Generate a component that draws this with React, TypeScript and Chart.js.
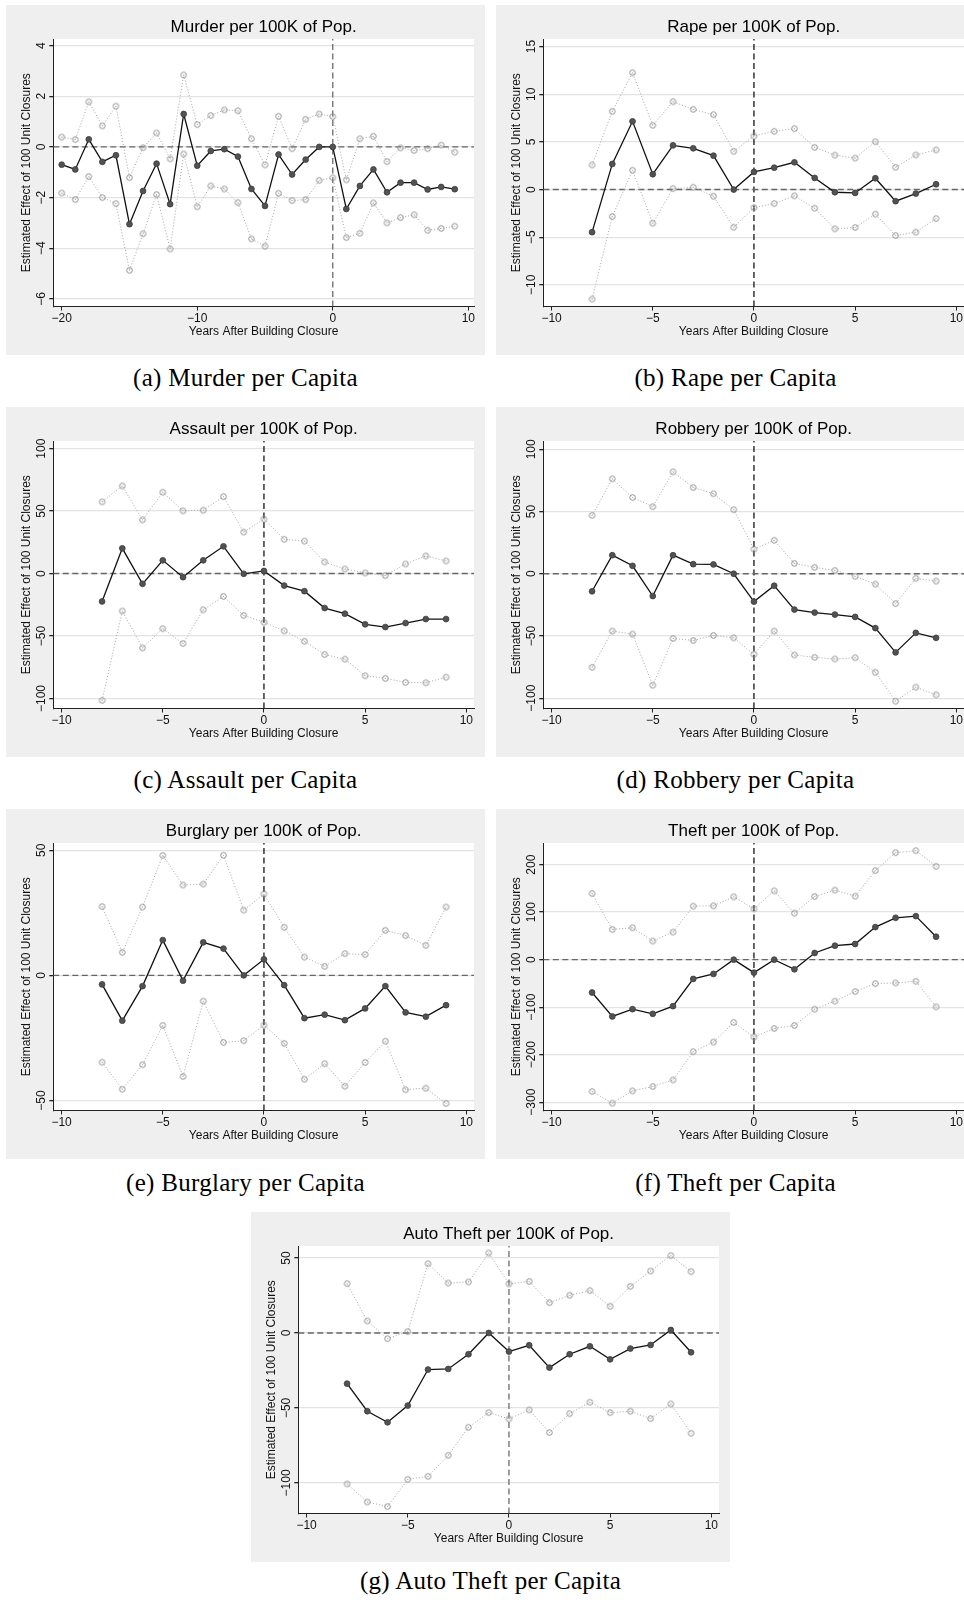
import React, { useEffect, useRef } from "react";
import { Chart, registerables } from "chart.js";

Chart.register(...registerables);

// ---------------------------------------------------------------------------
// Event-study estimates: effect of 100 unit closures, by years after closure.
// coef = point estimate, upper / lower = confidence bounds.
// ---------------------------------------------------------------------------

const murderYears = [
  -20, -19, -18, -17, -16, -15, -14, -13, -12, -11,
  -10, -9, -8, -7, -6, -5, -4, -3, -2, -1,
  0, 1, 2, 3, 4, 5, 6, 7, 8, 9,
];
const murderCoef = [
  -0.7, -0.89, 0.3, -0.59, -0.33, -3.05, -1.74, -0.66, -2.26, 1.3,
  -0.74, -0.16, -0.09, -0.38, -1.66, -2.33, -0.3, -1.09, -0.5, 0.0,
  0.0, -2.45, -1.54, -0.89, -1.79, -1.41, -1.41, -1.68, -1.58, -1.67,
];
const murderUpper = [
  0.39, 0.29, 1.78, 0.83, 1.61, -1.21, -0.03, 0.55, -0.47, 2.84,
  0.88, 1.24, 1.46, 1.43, 0.32, -0.71, 1.21, -0.07, 1.09, 1.3,
  1.2, -1.3, 0.32, 0.42, -0.58, -0.04, -0.14, -0.07, 0.07, -0.21,
];
const murderLower = [
  -1.82, -2.08, -1.17, -2.0, -2.24, -4.87, -3.43, -1.88, -4.03, -0.28,
  -2.36, -1.54, -1.66, -2.2, -3.63, -3.92, -1.83, -2.12, -2.08, -1.32,
  -1.22, -3.58, -3.41, -2.21, -3.0, -2.79, -2.68, -3.29, -3.22, -3.13,
];

const windowYears = [-8, -7, -6, -5, -4, -3, -2, -1, 0, 1, 2, 3, 4, 5, 6, 7, 8, 9];

const rapeCoef = [-4.47, 2.69, 7.16, 1.61, 4.64, 4.33, 3.56, 0.0, 1.85, 2.3, 2.86, 1.22, -0.28, -0.35, 1.19, -1.22, -0.42, 0.56];
const rapeUpper = [2.58, 8.21, 12.26, 6.74, 9.22, 8.41, 7.86, 4.02, 5.62, 6.11, 6.39, 4.43, 3.61, 3.3, 5.02, 2.34, 3.63, 4.16];
const rapeLower = [-11.49, -2.83, 2.03, -3.53, 0.1, 0.24, -0.7, -3.95, -1.89, -1.47, -0.66, -1.96, -4.12, -3.98, -2.58, -4.82, -4.47, -3.04];

const assaultCoef = [-22.3, 20.2, -8.2, 10.6, -2.9, 10.6, 21.8, -0.2, 2.1, -9.6, -14.1, -27.6, -32.1, -40.6, -42.8, -39.6, -36.4, -36.4];
const assaultUpper = [57.4, 70.1, 43.0, 65.1, 50.2, 50.7, 61.6, 33.2, 43.6, 27.4, 26.0, 9.3, 3.7, 0.5, -1.6, 7.7, 14.1, 10.1];
const assaultLower = [-101.5, -30.0, -59.5, -44.1, -56.0, -29.0, -18.3, -33.5, -39.0, -45.9, -54.2, -64.8, -68.5, -81.8, -83.9, -87.1, -87.4, -82.9];

const robberyCoef = [-14.1, 14.9, 6.4, -17.9, 14.9, 7.7, 7.5, 0.0, -22.4, -9.6, -28.8, -31.2, -32.8, -34.7, -43.7, -63.2, -47.5, -51.5];
const robberyUpper = [46.9, 76.3, 61.3, 53.9, 81.9, 69.3, 64.3, 51.5, 19.7, 26.9, 8.3, 5.1, 2.7, -2.1, -8.3, -24.0, -3.7, -5.9];
const robberyLower = [-75.2, -46.1, -48.5, -89.6, -52.0, -53.6, -49.6, -51.5, -64.8, -46.1, -65.3, -67.2, -68.5, -67.5, -79.2, -102.4, -91.2, -97.3];

const burglaryCoef = [-3.6, -18.1, -4.3, 14.1, -2.1, 13.2, 10.7, 0.0, 6.4, -3.9, -17.1, -15.7, -17.9, -13.2, -4.3, -14.8, -16.5, -11.9];
const burglaryUpper = [27.5, 9.2, 27.3, 47.9, 36.1, 36.5, 48.0, 26.1, 32.5, 19.2, 7.3, 3.6, 8.7, 8.3, 18.0, 15.9, 12.0, 27.3];
const burglaryLower = [-34.7, -45.5, -35.7, -20.0, -40.4, -10.3, -26.8, -26.1, -19.9, -27.2, -41.5, -35.3, -44.3, -34.8, -26.3, -45.7, -45.1, -51.2];

const theftCoef = [-69.2, -119.6, -104.2, -114.0, -97.9, -40.6, -30.1, 0.0, -27.3, 0.0, -20.3, 14.0, 29.4, 32.9, 68.5, 88.1, 91.6, 48.3];
const theftUpper = [139.2, 63.6, 67.1, 39.2, 58.0, 112.6, 113.3, 132.2, 107.0, 144.8, 97.9, 132.9, 146.2, 133.6, 187.4, 225.2, 229.4, 196.5];
const theftLower = [-277.6, -302.1, -276.2, -267.1, -253.1, -193.7, -173.4, -132.2, -162.9, -144.8, -138.5, -104.2, -87.4, -67.1, -50.3, -49.0, -45.5, -99.3];

const autoTheftCoef = [-33.8, -52.2, -59.6, -48.4, -24.4, -24.0, -14.2, 0.0, -12.4, -8.2, -23.1, -14.2, -8.9, -17.6, -10.4, -8.0, 2.0, -12.9];
const autoTheftUpper = [32.9, 8.0, -3.8, 0.9, 46.2, 33.3, 34.0, 53.3, 32.7, 34.4, 20.2, 25.1, 28.2, 17.8, 31.1, 41.3, 51.6, 40.9];
const autoTheftLower = [-100.7, -112.7, -115.8, -97.6, -95.6, -81.6, -62.9, -53.1, -57.3, -51.3, -66.4, -53.8, -46.2, -53.1, -52.2, -57.1, -47.3, -66.9];

// Axis tick values
const murderXTicks = [-20, -10, 0, 10];
const windowXTicks = [-10, -5, 0, 5, 10];
const murderYTicks = [-6, -4, -2, 0, 2, 4];
const rapeYTicks = [-10, -5, 0, 5, 10, 15];
const assaultYTicks = [-100, -50, 0, 50, 100];
const robberyYTicks = [-100, -50, 0, 50, 100];
const burglaryYTicks = [-50, 0, 50];
const theftYTicks = [-300, -200, -100, 0, 100, 200];
const autoTheftYTicks = [-100, -50, 0, 50];

const X_TITLE = "Years After Building Closure";
const Y_TITLE = "Estimated Effect of 100 Unit Closures";

// ---------------------------------------------------------------------------
// Layout / styling
// ---------------------------------------------------------------------------
const PANEL_W = 479;
const PANEL_H = 350;
const SANS = '"Liberation Sans", Arial, Helvetica, sans-serif';
const SERIF = '"Liberation Serif", "Times New Roman", serif';
const TICK_SIZE = 12;
const TITLE_SIZE = 17;
const Y_AXIS_W = 47.3; // y-axis box width (title + labels + ticks)
const X_AXIS_H = 48.5; // x-axis box height
const TICK_LEN = 4;
const Y_LABEL_CENTER = 36; // x-centre of the rotated y tick labels

type PanelSpec = {
  key: string;
  title: string;
  caption: string;
  years: number[];
  coef: number[];
  upper: number[];
  lower: number[];
  xTicks: number[];
  yTicks: number[];
  xRange: [number, number];
  yRange: [number, number];
  left: number;
  top: number;
  captionY: number;
  vColor: string;
  vWidth: number;
};

const WIDE_X: [number, number] = [-10.41, 10.38];

const panels: PanelSpec[] = [
  {
    key: "a", title: "Murder per 100K of Pop.", caption: "(a) Murder per Capita",
    years: murderYears, coef: murderCoef, upper: murderUpper, lower: murderLower,
    xTicks: murderXTicks, yTicks: murderYTicks, xRange: [-20.62, 10.42], yRange: [-6.3, 4.26],
    left: 6, top: 5, captionY: 378, vColor: "#6a6a6a", vWidth: 1.3,
  },
  {
    key: "b", title: "Rape per 100K of Pop.", caption: "(b) Rape per Capita",
    years: windowYears, coef: rapeCoef, upper: rapeUpper, lower: rapeLower,
    xTicks: windowXTicks, yTicks: rapeYTicks, xRange: WIDE_X, yRange: [-12.27, 15.8],
    left: 496, top: 5, captionY: 378, vColor: "#000000", vWidth: 1.2,
  },
  {
    key: "c", title: "Assault per 100K of Pop.", caption: "(c) Assault per Capita",
    years: windowYears, coef: assaultCoef, upper: assaultUpper, lower: assaultLower,
    xTicks: windowXTicks, yTicks: assaultYTicks, xRange: WIDE_X, yRange: [-108, 106.1],
    left: 6, top: 407, captionY: 780, vColor: "#000000", vWidth: 1.2,
  },
  {
    key: "d", title: "Robbery per 100K of Pop.", caption: "(d) Robbery per Capita",
    years: windowYears, coef: robberyCoef, upper: robberyUpper, lower: robberyLower,
    xTicks: windowXTicks, yTicks: robberyYTicks, xRange: WIDE_X, yRange: [-108.3, 106.7],
    left: 496, top: 407, captionY: 780, vColor: "#000000", vWidth: 1.2,
  },
  {
    key: "e", title: "Burglary per 100K of Pop.", caption: "(e) Burglary per Capita",
    years: windowYears, coef: burglaryCoef, upper: burglaryUpper, lower: burglaryLower,
    xTicks: windowXTicks, yTicks: burglaryYTicks, xRange: WIDE_X, yRange: [-54, 52.9],
    left: 6, top: 809, captionY: 1183, vColor: "#000000", vWidth: 1.2,
  },
  {
    key: "f", title: "Theft per 100K of Pop.", caption: "(f) Theft per Capita",
    years: windowYears, coef: theftCoef, upper: theftUpper, lower: theftLower,
    xTicks: windowXTicks, yTicks: theftYTicks, xRange: WIDE_X, yRange: [-317.5, 245.5],
    left: 496, top: 809, captionY: 1183, vColor: "#000000", vWidth: 1.2,
  },
  {
    key: "g", title: "Auto Theft per 100K of Pop.", caption: "(g) Auto Theft per Capita",
    years: windowYears, coef: autoTheftCoef, upper: autoTheftUpper, lower: autoTheftLower,
    xTicks: windowXTicks, yTicks: autoTheftYTicks, xRange: WIDE_X, yRange: [-120.4, 58],
    left: 251, top: 1212, captionY: 1581, vColor: "#6a6a6a", vWidth: 1.3,
  },
];

const fmtTick = (v: number | string) => {
  const n = Number(v);
  return n < 0 ? "\u2212" + Math.abs(n) : String(n);
};

// Hollow circle marker with a faint centre dot, used for the confidence bounds
function makeHollowMarker(): HTMLCanvasElement {
  const c = document.createElement("canvas");
  c.width = 9;
  c.height = 9;
  const g = c.getContext("2d")!;
  g.strokeStyle = "#8e8e8e";
  g.lineWidth = 1;
  g.beginPath();
  g.arc(4.5, 4.5, 2.8, 0, Math.PI * 2);
  g.stroke();
  g.fillStyle = "#b4b4b4";
  g.fillRect(4, 4, 1, 1);
  return c;
}

// Grey graph region with a white plot region
const panelBackground = {
  id: "panelBackground",
  beforeDraw(chart: any) {
    const { ctx, chartArea: a, width, height } = chart;
    ctx.save();
    ctx.fillStyle = "#efefef";
    ctx.fillRect(0, 0, width, height);
    ctx.fillStyle = "#ffffff";
    ctx.fillRect(a.left, a.top, a.right - a.left, a.bottom - a.top);
    ctx.restore();
  },
};

function widestLabel(values: number[]): number {
  const c = document.createElement("canvas").getContext("2d")!;
  c.font = `${TICK_SIZE}px ${SANS}`;
  return Math.max(...values.map((v) => c.measureText(fmtTick(v)).width));
}

function buildConfig(p: PanelSpec, marker: HTMLCanvasElement): any {
  const pts = (ys: number[]) => p.years.map((x, i) => ({ x, y: ys[i] }));
  const [xMin, xMax] = p.xRange;
  const [yMin, yMax] = p.yRange;
  const yPad = Y_AXIS_W - TICK_LEN - Y_LABEL_CENTER - widestLabel(p.yTicks) / 2;
  const tickFont = { family: SANS, size: TICK_SIZE };
  const titleLine = TITLE_SIZE * 1.2;
  const titleTop = 22 - titleLine / 2;

  const boundStyle = {
    borderColor: "#a6a6a6",
    borderWidth: 1,
    borderDash: [1, 2],
    pointStyle: marker,
    pointRadius: 3,
    pointHoverRadius: 3,
    fill: false,
    tension: 0,
    order: 2,
  };

  return {
    type: "line",
    data: {
      datasets: [
        {
          data: pts(p.coef),
          borderColor: "#111111",
          borderWidth: 1.3,
          backgroundColor: "#525252",
          pointBackgroundColor: "#525252",
          pointBorderColor: "#3c3c3c",
          pointBorderWidth: 0.8,
          pointRadius: 2.9,
          pointHoverRadius: 2.9,
          fill: false,
          tension: 0,
          order: 1,
        },
        { data: pts(p.upper), ...boundStyle },
        { data: pts(p.lower), ...boundStyle },
        {
          // zero-effect reference line
          data: [{ x: xMin, y: 0 }, { x: xMax, y: 0 }],
          borderColor: "#666666",
          borderWidth: 1.4,
          borderDash: [6, 3.5],
          pointRadius: 0,
          fill: false,
          order: 3,
        },
        {
          // closure-year reference line
          data: [{ x: 0, y: yMin }, { x: 0, y: yMax }],
          borderColor: p.vColor,
          borderWidth: p.vWidth,
          borderDash: [6, 3.5],
          pointRadius: 0,
          fill: false,
          order: 3,
        },
      ],
    },
    options: {
      responsive: false,
      animation: false,
      devicePixelRatio: 1,
      events: [],
      layout: { padding: { left: 0, right: PANEL_W - 468, top: 0, bottom: 0 } },
      plugins: {
        legend: { display: false },
        tooltip: { enabled: false },
        title: {
          display: true,
          text: p.title,
          fullSize: false,
          color: "#000000",
          font: { family: SANS, size: TITLE_SIZE, weight: "normal" },
          padding: { top: titleTop, bottom: 34 - titleTop - titleLine },
        },
      },
      scales: {
        x: {
          type: "linear",
          min: xMin,
          max: xMax,
          afterBuildTicks: (s: any) => {
            s.ticks = p.xTicks.map((v) => ({ value: v }));
          },
          afterFit: (s: any) => {
            s.height = X_AXIS_H;
          },
          grid: { drawOnChartArea: false, tickColor: "#222222", tickLength: TICK_LEN, lineWidth: 1 },
          border: { display: true, color: "#222222", width: 1 },
          ticks: {
            autoSkip: false,
            maxRotation: 0,
            minRotation: 0,
            padding: 1.3,
            color: "#111111",
            font: tickFont,
            callback: fmtTick,
          },
          title: {
            display: true,
            text: X_TITLE,
            color: "#111111",
            font: tickFont,
            padding: { top: 0, bottom: 15.8 },
          },
        },
        y: {
          type: "linear",
          min: yMin,
          max: yMax,
          afterBuildTicks: (s: any) => {
            s.ticks = p.yTicks.map((v) => ({ value: v }));
          },
          afterFit: (s: any) => {
            s.width = Y_AXIS_W;
          },
          grid: { color: "#e3e3e3", lineWidth: 1.3, tickColor: "#222222", tickLength: TICK_LEN },
          border: { display: true, color: "#222222", width: 1 },
          ticks: {
            autoSkip: false,
            minRotation: 90,
            maxRotation: 90,
            crossAlign: "center",
            padding: yPad,
            color: "#111111",
            font: tickFont,
            callback: fmtTick,
          },
          title: {
            display: true,
            text: Y_TITLE,
            color: "#111111",
            font: tickFont,
            padding: { top: 13.8, bottom: 0 },
          },
        },
      },
    },
    plugins: [panelBackground],
  };
}

function Panel({ spec }: { spec: PanelSpec }) {
  const ref = useRef<HTMLCanvasElement | null>(null);

  useEffect(() => {
    if (!ref.current) return;
    const chart = new Chart(ref.current, buildConfig(spec, makeHollowMarker()));
    return () => chart.destroy();
  }, [spec]);

  return (
    <>
      <canvas
        ref={ref}
        width={PANEL_W}
        height={PANEL_H}
        style={{ position: "absolute", left: spec.left, top: spec.top, width: PANEL_W, height: PANEL_H }}
      />
      <div
        style={{
          position: "absolute",
          left: spec.left + PANEL_W / 2 - 200,
          top: spec.captionY - 16,
          width: 400,
          height: 32,
          lineHeight: "32px",
          textAlign: "center",
          fontFamily: SERIF,
          fontSize: 25,
          letterSpacing: "0.3px",
          color: "#000",
          whiteSpace: "nowrap",
        }}
      >
        {spec.caption}
      </div>
    </>
  );
}

export default function App() {
  return (
    <div
      style={{
        position: "absolute",
        left: 0,
        top: 0,
        width: 964,
        height: 1600,
        overflow: "hidden",
        background: "#ffffff",
      }}
    >
      {panels.map((p) => (
        <Panel key={p.key} spec={p} />
      ))}
    </div>
  );
}
